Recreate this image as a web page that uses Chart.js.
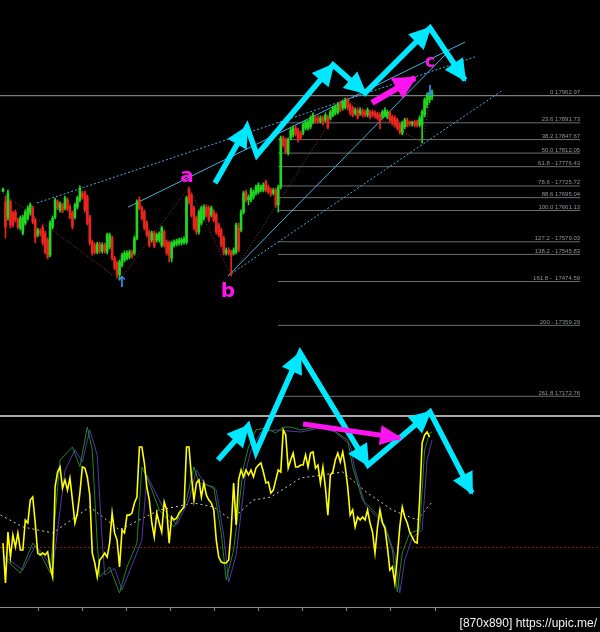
<!DOCTYPE html>
<html><head><meta charset="utf-8">
<script src="https://cdn.jsdelivr.net/npm/chart.js@4.4.1/dist/chart.umd.min.js"></script>
<style>html,body{margin:0;padding:0;background:#000;overflow:hidden}canvas{display:block}</style>
</head><body>
<canvas id="c" width="600" height="632" style="width:600px;height:632px"></canvas>
<script>
// ---------- price candles (bar index 0..173) ----------
const opens=[17712,17684,17644,17684,17655,17657,17636,17615,17602,17628,17641,17655,17668,17636,17597,17607,17618,17602,17584,17544,
17618,17644,17684,17663,17676,17668,17689,17670,17655,17644,17670,17689,17707,17707,17697,17644,17578,17570,17552,17573,
17555,17570,17552,17565,17589,17536,17523,17492,17518,17531,17536,17539,17552,17549,17589,17689,17668,17657,17628,17605,
17584,17602,17584,17584,17570,17605,17578,17576,17536,17570,17573,17576,17576,17578,17578,17715,17702,17668,17641,17605,
17628,17641,17670,17668,17649,17657,17649,17623,17610,17589,17549,17557,17552,17549,17552,17615,17610,17657,17710,17689,
17689,17697,17707,17710,17715,17715,17736,17723,17715,17707,17715,17676,17723,17852,17847,17812,17852,17860,17878,17873,
17865,17865,17878,17878,17881,17894,17904,17904,17896,17904,17899,17907,17904,17912,17918,17920,17944,17931,17933,17952,
17939,17931,17918,17925,17918,17923,17920,17912,17920,17920,17918,17915,17912,17907,17912,17907,17918,17907,17904,17899,
17886,17865,17881,17899,17894,17889,17894,17894,17886,17886,17912,17939,17952,17960];
const highs=[17720,17699,17715,17689,17660,17663,17641,17647,17649,17663,17673,17681,17673,17641,17615,17613,17623,17607,17589,17634,
17647,17694,17689,17684,17681,17699,17694,17676,17660,17681,17699,17726,17712,17712,17702,17649,17584,17576,17578,17578,
17576,17576,17602,17602,17594,17541,17528,17531,17549,17555,17555,17557,17557,17594,17689,17697,17673,17663,17634,17610,
17607,17607,17602,17605,17620,17610,17584,17581,17581,17584,17586,17589,17589,17592,17699,17723,17707,17673,17647,17663,
17673,17676,17676,17673,17673,17663,17655,17628,17615,17594,17563,17563,17557,17563,17628,17628,17663,17712,17715,17702,
17720,17715,17728,17734,17728,17734,17741,17728,17720,17720,17720,17728,17857,17857,17852,17852,17878,17883,17883,17878,
17870,17891,17899,17899,17910,17918,17910,17910,17910,17910,17918,17912,17925,17936,17939,17944,17949,17952,17957,17957,
17944,17936,17931,17931,17931,17928,17925,17931,17925,17925,17923,17920,17918,17925,17931,17925,17923,17912,17910,17904,
17891,17896,17904,17904,17896,17896,17899,17899,17910,17925,17957,17970,17975,17978];
const lows=[17710,17589,17636,17615,17618,17631,17613,17610,17597,17623,17636,17649,17626,17576,17592,17594,17570,17547,17534,17539,
17613,17639,17663,17657,17655,17663,17660,17639,17613,17639,17665,17684,17691,17657,17623,17570,17544,17547,17547,17549,
17549,17549,17547,17560,17531,17505,17484,17478,17513,17526,17531,17534,17536,17544,17584,17663,17636,17610,17592,17565,
17578,17563,17578,17578,17565,17565,17544,17526,17526,17565,17568,17570,17570,17573,17573,17678,17644,17610,17599,17599,
17623,17636,17644,17631,17644,17631,17599,17592,17565,17544,17544,17544,17489,17544,17547,17552,17605,17652,17684,17676,
17684,17691,17702,17705,17710,17710,17710,17705,17699,17702,17670,17657,17718,17828,17810,17807,17847,17854,17857,17841,
17847,17860,17873,17873,17876,17889,17891,17891,17891,17886,17894,17876,17899,17907,17912,17915,17920,17925,17928,17925,
17912,17907,17912,17902,17912,17907,17907,17907,17902,17907,17904,17899,17876,17902,17907,17902,17894,17886,17881,17873,
17862,17860,17876,17881,17883,17883,17881,17881,17881,17839,17907,17931,17944,17952];
const closes=[17718,17618,17707,17623,17623,17636,17618,17641,17644,17657,17668,17676,17631,17589,17610,17602,17576,17552,17539,17628,
17641,17689,17668,17678,17660,17694,17665,17644,17618,17676,17694,17720,17697,17663,17628,17576,17549,17552,17573,17555,
17570,17555,17597,17597,17536,17510,17492,17526,17544,17549,17549,17552,17541,17589,17684,17668,17641,17615,17597,17570,
17602,17568,17597,17599,17615,17570,17549,17544,17576,17578,17581,17584,17584,17586,17694,17684,17649,17615,17605,17657,
17668,17670,17649,17636,17668,17636,17605,17597,17570,17549,17557,17549,17541,17557,17623,17557,17657,17707,17689,17697,
17715,17710,17723,17728,17723,17728,17715,17710,17705,17715,17676,17723,17852,17833,17815,17847,17873,17878,17862,17847,
17852,17886,17894,17894,17904,17912,17896,17896,17904,17891,17912,17881,17920,17931,17933,17939,17925,17946,17952,17931,
17918,17912,17925,17907,17925,17912,17912,17925,17907,17912,17910,17904,17894,17920,17925,17920,17899,17891,17886,17878,
17868,17891,17899,17886,17889,17894,17886,17886,17904,17920,17952,17965,17970,17973];

// ---------- Fibonacci retracement ----------
const fibLevels=['0','23.6','38.2','50.0','61.8','78.6','88.6','100.0','127.2','138.2','161.8','200','261.8'];
const fibSeps=[' ',' ',' ',' ',' - ',' - ',' ',' ',' - ',' - ',' -  ',' - ',' '];
const fibPrices=[17962.97,17891.73,17847.67,17812.05,17776.43,17725.72,17695.04,17661.13,17579.03,17545.83,17474.59,17359.29,17172.76];
const fibStartBar=110.9, fibEndBar=232.7;

// ---------- trend lines / zigzag (bar index, price) ----------
const upperSolidBars=[50.4,186.3], upperSolidPrices=[17670,18104];
const bSolidBars=[90.7,180.2], bSolidPrices=[17489,18083];
const upperDotBars=[13.7,190.3], upperDotPrices=[17681,18065];
const bDotBars=[90.7,201.6], bDotPrices=[17489,17978];
const zigBars=[0,47,75,92,138,169,173], zigPrices=[17707,17478,17723,17489,17957,17839,17978];

// ---------- drawn arrows ----------
const cyanTopBars=[85.5,98.4,102.4,133.1,146,172.2,186.3], cyanTopPrices=[17733,17881,17807,18044,17970,18141,18004];
const cyanTopHeads=[1,3,4,5,6];
const cyanBotBars=[86.7,98.8,102,119.8,147.2,172.2,189.1], cyanBotVals=[76.6,94.7,80.9,133.5,73.9,102.1,59.0];
const cyanBotHeads=[1,3,4,5,6];
const magTopBars=[148.8,166.1], magTopPrices=[17944,18010];
const magBotBars=[121,160.1], magBotVals=[95.7,88.3];

// ---------- oscillator window ----------
const yellow=[32.4,11.2,38.3,25.0,36.7,30.3,37.8,28.7,28.7,44.7,
43.1,55.3,56.9,43.1,27.1,26.1,27.1,26.1,27.7,19.7,
14.4,62.2,70.2,72.9,61.7,66.0,60.6,67.0,55.3,43.1,
48.4,59.0,72.9,72.3,67.6,58.0,27.1,21.8,14.4,23.4,
25.0,27.1,25.0,32.4,48.4,37.8,34.0,19.7,39.4,37.8,
47.3,47.3,48.4,53.7,56.9,83.5,83.5,75.0,62.2,55.3,
43.1,35.6,48.4,43.1,38.3,54.3,50.0,32.4,46.3,44.7,
45.7,48.4,50.0,51.6,83.5,83.5,67.6,55.3,64.4,66.0,
56.9,64.4,58.0,55.3,53.7,50.0,34.0,25.0,22.3,21.8,
21.8,23.4,39.4,64.4,42.0,66.0,71.3,67.6,71.3,68.6,
71.3,67.6,72.3,73.9,75.0,70.2,64.4,64.9,59.0,60.6,
66.0,71.3,70.2,92.6,89.9,72.3,76.6,80.3,72.9,72.9,
73.9,73.9,79.3,72.9,80.3,80.9,72.3,73.9,64.4,72.9,
62.2,47.3,68.6,70.2,76.6,80.3,75.5,80.9,72.9,62.2,
47.3,50.0,41.0,46.3,44.7,46.3,44.7,50.0,43.1,38.3,
27.1,41.0,50.0,43.1,40.4,30.3,18.1,19.7,11.2,25.0,
41.0,51.6,46.3,43.1,38.3,35.6,33.0,32.4,55.3,85.6,
89.9,91.5,88.8];
const greenBars=[0,7,12,15,19,23,28,31,34,36,38,39,43,47,50,54,56,59,63,69,74,77,79,85,88,90,93,97,99,102,106,110,113,116,120,127,133,139,141,145,149,153,157,159,161,164,168,170,172,173];
const greenVals=[25.0,16.5,32.4,27.1,16.5,76.6,83.5,72.9,94.1,81.9,32.4,14.4,19.7,5.9,19.7,32.4,72.9,64.4,50.0,41.0,55.3,72.9,64.4,62.2,37.8,12.8,28.7,72.9,83.5,92.6,93.6,91.0,94.1,94.1,92.6,94.1,92.6,87.2,72.9,55.3,50.0,44.7,28.7,6.4,27.1,37.8,39.4,81.9,91.0,91.5];
const purpleBars=[0,8,13,16,20,25,29,32,35,38,40,41,45,48,52,56,58,60,65,70,75,78,81,86,89,91,94,98,100,104,110,120,128,134,140,142,146,150,154,158,160,162,165,169,171,173];
const purpleVals=[26,18,31,27,18,71,82,75.5,92.6,79,34,15.4,19,7.4,20.7,34,68.6,63.3,50,42,55.3,71.3,64.4,60.6,36.7,11.7,26.1,71.3,81.9,91.5,92.6,91.5,93.6,91.5,84.6,71.3,52.7,47.3,42,26.1,5.9,23.4,35.1,39.4,76.6,87.2];
const maBars=[-1,8,20,35,47,63,77,85,92,101,108,120,137,147,157,167,173];
const maVals=[47.3,41.0,37.8,51.6,39.4,50.0,53.7,51.6,44.7,55.3,56.9,67.0,70.2,59.0,50.0,44.7,54.3];
const oscLevel=30, oscTop=100;
const timeTickBars=[14.2,31.9,49.7,67.5,85.2,103,120.7,138.5,156.2,174];

// ---------- text marks ----------
const waveLabels=[{t:'a',bar:74.2,p:17749,size:20},{t:'b',bar:90.7,p:17447,size:20},{t:'c',bar:172.2,p:18049,size:17}];
const signalArrows=[{t:'↑',bar:48,p:17471},{t:'↓',bar:172.2,p:17973}];

// ---------- view ----------
const X_MIN=-1.21, X_MAX=240.73;
const P_MIN=16553.1, P_MAX=18214.6;
const O_MIN=-14.89, O_MAX=321.28;

const UP='#1fd81f', DOWN='#e8261e', CYAN='#00e8ff', MAG='#ff14f0', TREND='#4aaee0';
const pts=(xs,ys)=>xs.map((x,i)=>({x,y:ys[i]}));
const candleColor=c=>closes[c.dataIndex]>=opens[c.dataIndex]?UP:DOWN;
const line=(data,o)=>Object.assign({type:'line',data,pointRadius:0,borderWidth:1,tension:0,fill:false,yAxisID:'y'},o);

const datasets=[];
fibPrices.forEach((p,i)=>{
  const x0=i===0?X_MIN:fibStartBar, x1=i===0?X_MAX:fibEndBar;
  datasets.push(line([{x:x0,y:p},{x:x1,y:p}],{borderColor:i===0?'#9a9a9a':'#6a6e6e',order:50}));
});
datasets.push(line(pts(upperSolidBars,upperSolidPrices),{borderColor:TREND,order:40}));
datasets.push(line(pts(bSolidBars,bSolidPrices),{borderColor:TREND,order:40}));
datasets.push(line(pts(upperDotBars,upperDotPrices),{borderColor:TREND,borderDash:[2,2],order:40}));
datasets.push(line(pts(bDotBars,bDotPrices),{borderColor:TREND,borderDash:[2,2],order:40}));
datasets.push(line(pts(zigBars,zigPrices),{borderColor:'#9a3838',borderDash:[1,2],order:41}));
datasets.push({type:'bar',data:highs.map((h,i)=>({x:i,y:[lows[i],h]})),backgroundColor:candleColor,barThickness:1,grouped:false,yAxisID:'y',order:31});
datasets.push({type:'bar',data:opens.map((o,i)=>({x:i,y:[o,closes[i]]})),backgroundColor:candleColor,barThickness:2,minBarLength:1,grouped:false,yAxisID:'y',order:30});
// oscillator
datasets.push(line([{x:X_MIN,y:oscLevel},{x:X_MAX,y:oscLevel}],{yAxisID:'y2',borderColor:'#8a1c1c',borderDash:[2,2],order:26}));
datasets.push(line(pts(maBars,maVals),{yAxisID:'y2',borderColor:'#cfcfcf',borderDash:[2,3],order:25}));
datasets.push(line(pts(purpleBars,purpleVals),{yAxisID:'y2',borderColor:'#5436a8',order:22}));
datasets.push(line(pts(greenBars,greenVals),{yAxisID:'y2',borderColor:'#1c8a1c',order:21}));
datasets.push(line(yellow.map((v,i)=>({x:i,y:v})),{yAxisID:'y2',borderColor:'#ffff00',borderWidth:1.6,order:20}));
// arrows
const arrowSets=[];
function addArrow(xs,ys,axis,color,heads,w,len,half){
  arrowSets.push({idx:datasets.length,heads,color,len,half});
  datasets.push(line(pts(xs,ys),{yAxisID:axis,borderColor:color,borderWidth:w,borderJoinStyle:'miter',order:2}));
}
addArrow(magTopBars,magTopPrices,'y',MAG,[1],6,21,12);
addArrow(magBotBars,magBotVals,'y2',MAG,[1],5,20,10);
addArrow(cyanTopBars,cyanTopPrices,'y',CYAN,cyanTopHeads,5.5,20,11);
addArrow(cyanBotBars,cyanBotVals,'y2',CYAN,cyanBotHeads,5.5,20,11);

function head(ctx,x0,y0,x1,y1,len,half,color){
  const a=Math.atan2(y1-y0,x1-x0),c=Math.cos(a),s=Math.sin(a);
  ctx.fillStyle=color;ctx.beginPath();
  ctx.moveTo(x1+2*c,y1+2*s);
  ctx.lineTo(x1-len*c+half*s,y1-len*s-half*c);
  ctx.lineTo(x1-len*c-half*s,y1-len*s+half*c);
  ctx.closePath();ctx.fill();
}

const overlay={
  id:'overlay',
  beforeDatasetsDraw(chart){
    const {ctx,scales:{x,y,y2}}=chart;
    ctx.save();
    const sy=Math.round(y2.getPixelForValue(oscTop));
    ctx.fillStyle='#a9a9a9';ctx.fillRect(0,sy-1,600,2);
    ctx.fillStyle='#8a8a8a';ctx.fillRect(0,607,600,1);
    timeTickBars.forEach(b=>{const px=Math.round(x.getPixelForValue(b));ctx.fillRect(px,608,1,3);});
    ctx.font='6px "Liberation Sans"';ctx.fillStyle='#8d9595';ctx.textAlign='right';ctx.textBaseline='alphabetic';
    fibPrices.forEach((p,i)=>{
      ctx.fillText(fibLevels[i]+fibSeps[i]+p.toFixed(2),x.getPixelForValue(fibEndBar),y.getPixelForValue(p)-1.5);
    });
    ctx.restore();
  },
  afterDatasetsDraw(chart){
    const {ctx,scales:{x,y}}=chart;
    ctx.save();
    arrowSets.forEach(a=>{
      const pts=chart.getDatasetMeta(a.idx).data;
      a.heads.forEach(k=>{head(ctx,pts[k-1].x,pts[k-1].y,pts[k].x,pts[k].y,a.len,a.half,a.color);});
    });
    ctx.textAlign='center';ctx.textBaseline='middle';
    waveLabels.forEach(l=>{ctx.font='bold '+l.size+'px "DejaVu Sans"';ctx.fillStyle=MAG;ctx.fillText(l.t,x.getPixelForValue(l.bar),y.getPixelForValue(l.p));});
    signalArrows.forEach(l=>{ctx.font='bold 15px "DejaVu Sans"';ctx.fillStyle='#3a86e8';ctx.fillText(l.t,x.getPixelForValue(l.bar),y.getPixelForValue(l.p));});
    ctx.font='12px "Liberation Sans"';ctx.fillStyle='#f2f2f2';ctx.textAlign='right';ctx.textBaseline='alphabetic';
    ctx.fillText('[870x890] https://upic.me/',597,627);
    ctx.restore();
  }
};

new Chart(document.getElementById('c'),{
  type:'line',
  data:{datasets},
  options:{
    responsive:false,animation:false,devicePixelRatio:1,events:[],
    layout:{padding:0},
    plugins:{legend:{display:false},tooltip:{enabled:false}},
    scales:{
      x:{type:'linear',min:X_MIN,max:X_MAX,display:false,offset:false},
      y:{type:'linear',min:P_MIN,max:P_MAX,display:false},
      y2:{type:'linear',min:O_MIN,max:O_MAX,display:false}
    }
  },
  plugins:[overlay]
});
</script>
</body></html>
